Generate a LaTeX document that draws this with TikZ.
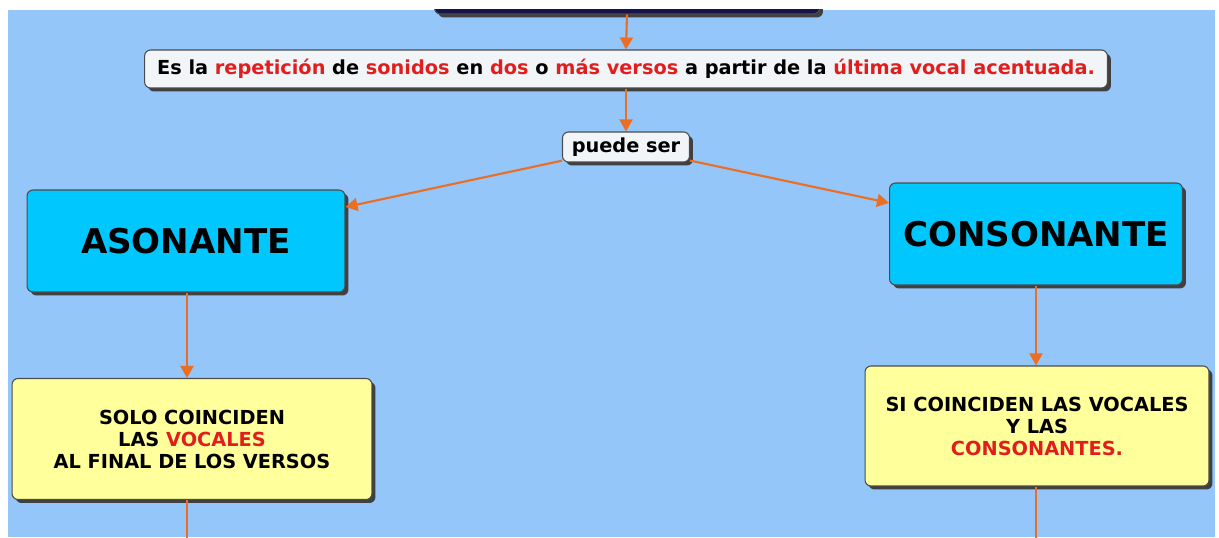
\documentclass[tikz,border=0pt]{standalone}
\usepackage{fontspec}
\setmainfont{DejaVu Sans}
\usetikzlibrary{arrows.meta,shadows}

\definecolor{fondo}{RGB}{148,198,250}
\definecolor{celeste}{RGB}{0,200,255}
\definecolor{amarillo}{RGB}{255,255,155}
\definecolor{naranja}{RGB}{235,110,35}
\definecolor{rojo}{RGB}{225,30,30}
\definecolor{marino}{RGB}{22,20,78}
\definecolor{grisclaro}{RGB}{242,245,248}

\newcommand{\rj}[1]{\textcolor{rojo}{#1}}

\tikzset{
  caja/.style={draw=black!70, rounded corners=0.12cm, line width=0.6pt,
    inner sep=0pt, align=center,
    drop shadow={shadow xshift=0.07cm, shadow yshift=-0.07cm, fill=black!75, opacity=1}},
  textochico/.style={font=\fontsize{11pt}{12.5pt}\selectfont\bfseries},
  textogrande/.style={font=\fontsize{19.4pt}{23pt}\selectfont\bfseries},
  flecha/.style={draw=naranja, line width=1.2pt, -{Triangle[length=0.24cm, width=0.26cm]}},
  linea/.style={draw=naranja, line width=1.2pt}
}

\begin{document}
\begin{tikzpicture}[x=0.02cm, y=-0.02cm]
      % marco blanco
      \fill[white] (0,0) rectangle (1219,537);
      \useasboundingbox (0,0) rectangle (1219,537);
      \begin{scope}
      \clip (8,10) rectangle (1215,537);
      \fill[fondo] (8,10) rectangle (1215,537);

      % cajas
      \node[caja, fill=marino, minimum width=7.7cm, minimum height=1.2cm] (titulo) at (627,-16) {};
      \node[caja, fill=grisclaro, textochico, minimum width=19.26cm, minimum height=0.76cm] (def) at (626,69)
        {Es la \rj{repetición} de \rj{sonidos} en \rj{dos} o \rj{más versos} a partir de la \rj{última vocal acentuada.}};
      \node[caja, fill=grisclaro, textochico, minimum width=2.54cm, minimum height=0.6cm] (puede) at (626,147) {puede ser};

      \node[caja, fill=celeste, textogrande, minimum width=6.36cm, minimum height=2.04cm] (ason) at (186,241) {ASONANTE};
      \node[caja, fill=celeste, textogrande, minimum width=5.86cm, minimum height=2.04cm] (cons) at (1036,234) {CONSONANTE};

      \node[caja, fill=amarillo, textochico, minimum width=7.2cm, minimum height=2.42cm] (solo) at (192,439)
        {SOLO COINCIDEN\\LAS \rj{VOCALES}\\AL FINAL DE LOS VERSOS};
      \node[caja, fill=amarillo, textochico, minimum width=6.88cm, minimum height=2.4cm] (si) at (1037,426)
        {SI COINCIDEN LAS VOCALES\\Y LAS\\\rj{CONSONANTES.}};

      \coordinate (finA) at (187,570);
      \coordinate (finC) at (1036,570);

      % flechas
      \draw[flecha] (titulo.south) -- (def.north);
      \draw[flecha] (def.south) -- (puede.north);
      \draw[flecha] (puede) -- (ason);
      \draw[flecha] (puede) -- (cons);
      \draw[flecha] (ason.south -| finA) -- (solo.north -| finA);
      \draw[flecha] (cons.south) -- (cons.south |- si.north);
      \draw[linea] (solo.south -| finA) -- (finA);
      \draw[linea] (si.south -| finC) -- (finC);
      \end{scope}
  \end{tikzpicture}
\end{document}
